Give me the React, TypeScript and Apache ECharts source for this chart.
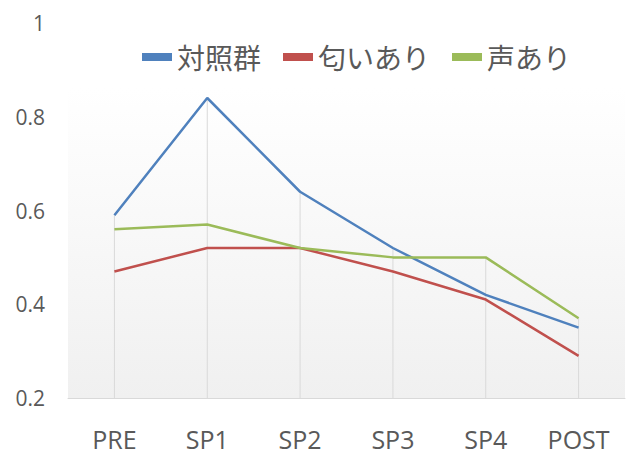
import React, { useEffect, useRef } from "react";
import * as echarts from "echarts";

const categories = ["PRE", "SP1", "SP2", "SP3", "SP4", "POST"];
const seriesNames = ["対照群", "匂いあり", "声あり"];
const controlValues = [0.59, 0.84, 0.64, 0.52, 0.42, 0.35];
const smellValues = [0.47, 0.52, 0.52, 0.47, 0.41, 0.29];
const voiceValues = [0.56, 0.57, 0.52, 0.5, 0.5, 0.37];
const colors = ["#4F81BD", "#C0504D", "#9BBB59"];

export default function App() {
  const ref = useRef<HTMLDivElement>(null);
  useEffect(() => {
    if (!ref.current) return;
    document.body.style.margin = "0";
    const chart = echarts.init(ref.current, null, { renderer: "svg" });
    const all = [controlValues, smellValues, voiceValues];
    const dropValues = categories.map((_, i) => Math.max(...all.map((s) => s[i])));
    const axisFont = "'Open Sans', 'Noto Sans', sans-serif";
    chart.setOption({
      animation: false,
      backgroundColor: "#ffffff",
      graphic: [
        {
          type: "rect",
          z: -10,
          shape: { x: 68, y: 88, width: 557, height: 310 },
          style: {
            fill: new echarts.graphic.LinearGradient(0, 0, 0, 1, [
              { offset: 0, color: "#ffffff" },
              { offset: 1, color: "#f0f0f0" },
            ]),
          },
        },
      ],
      legend: {
        data: seriesNames,
        top: 38,
        left: 137,
        icon: "rect",
        itemWidth: 30,
        itemHeight: 8,
        itemGap: 22,
        textStyle: {
          fontFamily: "'Noto Sans CJK JP', sans-serif",
          fontSize: 28,
          color: "#595959",
        },
      },
      grid: { left: 68, right: 17, top: 23, bottom: 68 },
      xAxis: {
        type: "category",
        data: categories,
        boundaryGap: true,
        axisLine: { show: true, lineStyle: { color: "#d9d9d9", width: 1 } },
        axisTick: { show: false },
        axisLabel: {
          margin: 28,
          fontFamily: axisFont,
          fontSize: 25,
          color: "#595959",
        },
        splitLine: { show: false },
      },
      yAxis: {
        type: "value",
        min: 0.2,
        max: 1,
        interval: 0.2,
        axisLine: { show: false },
        axisTick: { show: false },
        splitLine: { show: false },
        axisLabel: {
          margin: 23,
          fontFamily: axisFont,
          fontSize: 21,
          color: "#595959",
        },
      },
      series: [
        {
          type: "bar",
          name: "drop",
          data: dropValues,
          barWidth: 1,
          itemStyle: { color: "#d9d9d9" },
          silent: true,
          z: 1,
        },
        ...all.map((vals, i) => ({
          type: "line",
          name: seriesNames[i],
          data: vals,
          showSymbol: false,
          symbol: "none",
          lineStyle: { color: colors[i], width: 2.5 },
          itemStyle: { color: colors[i] },
          z: 3,
        })),
      ],
    });
    return () => chart.dispose();
  }, []);
  return <div ref={ref} style={{ width: 642, height: 466 }} />;
}
